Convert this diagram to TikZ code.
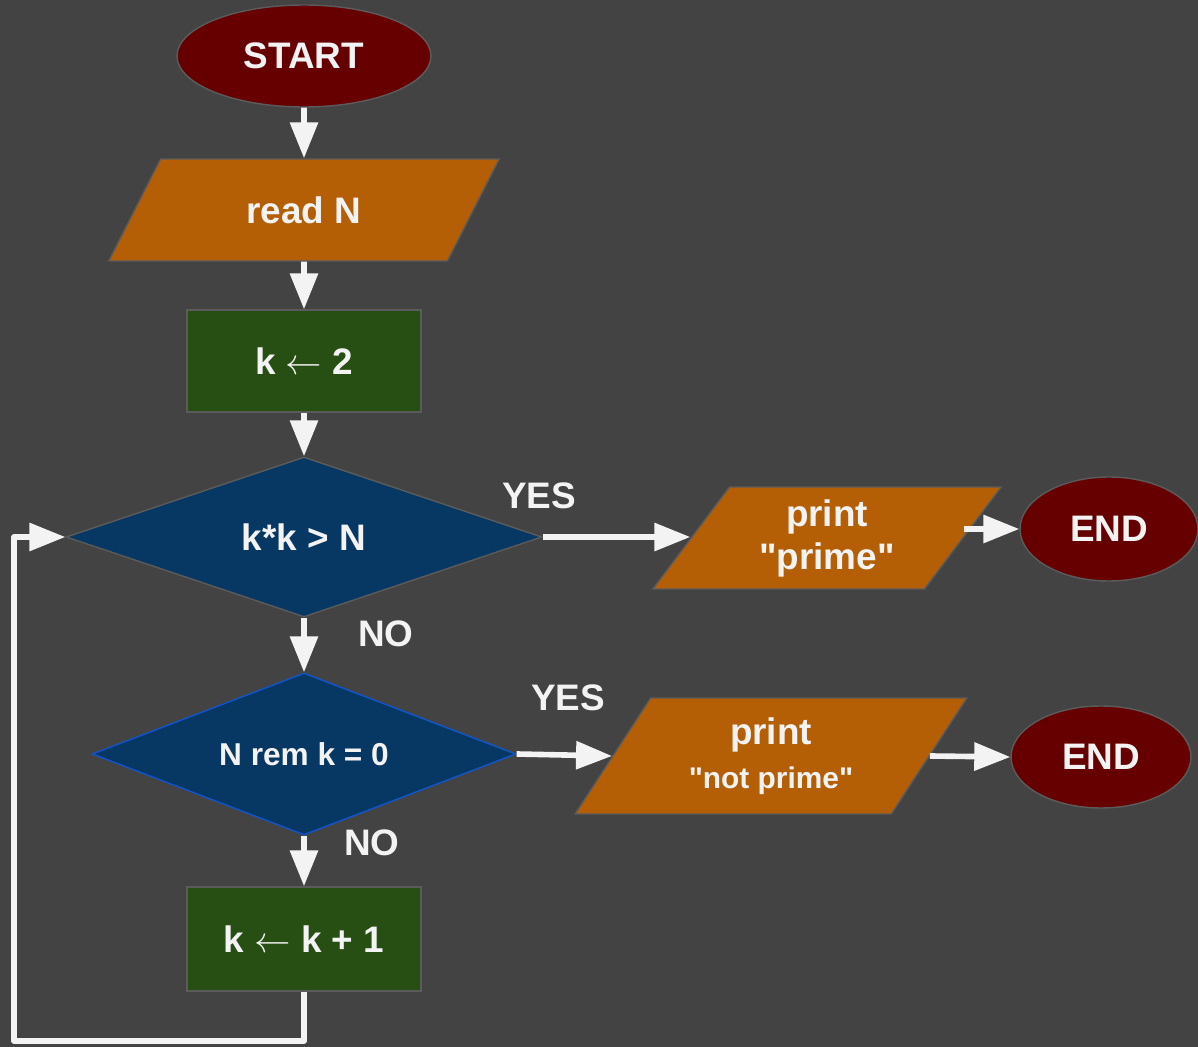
\documentclass[tikz,border=0pt]{standalone}
\usepackage{fontspec}
\setmainfont{Liberation Sans}[Ligatures=TeXOff]
\usetikzlibrary{shapes.geometric,arrows.meta}
\definecolor{bgc}{HTML}{434343}
\definecolor{ink}{HTML}{F3F3F3}
\definecolor{termfill}{HTML}{660000}
\definecolor{iofill}{HTML}{B45F06}
\definecolor{procfill}{HTML}{274E13}
\definecolor{decfill}{HTML}{073763}
\definecolor{edgegray}{HTML}{5B5B5B}
\definecolor{decblue}{HTML}{1155CC}
\begin{document}
\begin{tikzpicture}[x=0.02cm,y=-0.02cm,
  every node/.style={text=ink,font=\bfseries\fontsize{21}{24}\selectfont,inner sep=0pt},
  base/.style={draw=edgegray,line width=0.8pt},
  terminal/.style={base,ellipse,fill=termfill},
  iobox/.style={base,trapezium,trapezium stretches=true,fill=iofill,align=center},
  procbox/.style={base,rectangle,fill=procfill},
  decision/.style={base,diamond,fill=decfill,aspect=3},
  flow/.style={draw=ink,line width=3.2pt,line join=round,
    -{Triangle[width=15.5pt,length=20.5pt]}},
  tag/.style={font=\bfseries\fontsize{21}{24}\selectfont}]
  % canvas
  \fill[bgc] (0,0) rectangle (1198,1047);
  \useasboundingbox (0,0) rectangle (1198,1047);

  % main column
  \node[terminal,minimum width=5.08cm,minimum height=2.04cm] (start) at (304,56)
    {START};
  \node[iobox,minimum width=7.84cm,minimum height=2.04cm,
    trapezium left angle=52.6,trapezium right angle=127.4] (readn) at (304,210) {read N};
  \node[procbox,minimum width=4.68cm,minimum height=2.04cm] (init) at (304,361)
    {k \ensuremath{\leftarrow} 2};
  \node[decision,minimum width=9.52cm,minimum height=3.2cm] (test) at (304,537)
    {k*k > N};
  \node[decision,draw=decblue,minimum width=8.48cm,minimum height=3.24cm] (divides) at (304,754)
    {\fontsize{18}{21}\selectfont N rem k = 0};
  \node[procbox,minimum width=4.68cm,minimum height=2.08cm] (step) at (304,939)
    {k \ensuremath{\leftarrow} k + 1};

  % outputs and ends
  \node[iobox,minimum width=6.98cm,minimum height=2.04cm,
    trapezium left angle=55.5,trapezium right angle=124.5,
    font=\bfseries\fontsize{21}{24.5}\selectfont] (isprime) at (827,538)
    {print\\"prime"};
  \node[iobox,minimum width=7.84cm,minimum height=2.32cm,
    trapezium left angle=56.1,trapezium right angle=123.9] (notprime) at (771,756)
    {print\\[1pt]{\fontsize{17}{20}\selectfont "not prime"}};
  \node[terminal,minimum width=3.56cm,minimum height=2.08cm] (endA) at (1109,529) {END};
  \node[terminal,minimum width=3.6cm,minimum height=2.04cm] (endB) at (1101,757) {END};

  % branch labels
  \node[tag] (yesA) at (539,496) {YES};
  \node[tag] (noA) at (386,634) {NO};
  \node[tag] (yesB) at (568,698) {YES};
  \node[tag] (noB) at (372,843) {NO};

  % connectors
  \draw[flow] (start) -- (readn);
  \draw[flow] (readn) -- (init);
  \draw[flow] (init) -- (test);
  \draw[flow] (test) -- (divides);
  \draw[flow] (divides) -- (step);
  \draw[flow] (test.east) -- (isprime.west |- test.east);
  \draw[flow] (isprime.east |- endA.west) -- (endA.west);
  \draw[flow] (divides.east) -- (notprime.west);
  \draw[flow] (notprime.east) -- (endB.west);
  \coordinate (loopcorner) at (14,1041);
  \draw[flow] (step.south) |- (loopcorner) |- (test.west);
\end{tikzpicture}
\end{document}
